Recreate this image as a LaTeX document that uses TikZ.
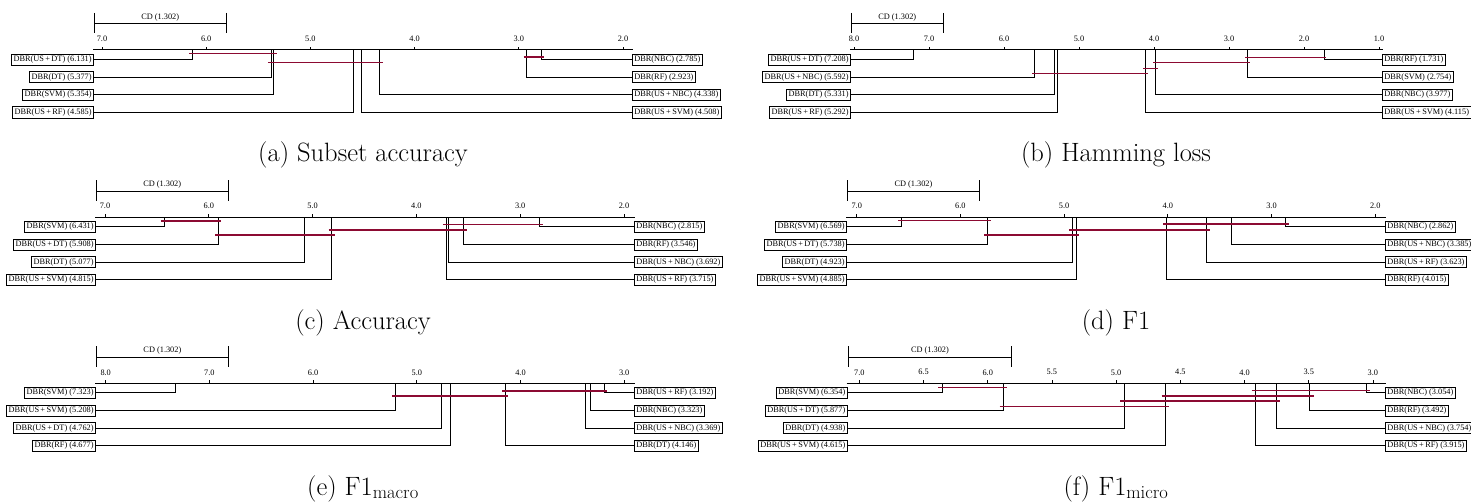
\documentclass[tikz,border=0pt]{standalone}
\usepackage{fontspec}
\newfontfamily\labfont{Liberation Serif}
\definecolor{cliq}{RGB}{140,10,50}
\tikzset{
  axisline/.style={line width=1pt},
  tickline/.style={line width=0.8pt},
  cdline/.style={line width=1pt},
  rankline/.style={line width=0.9pt},
  clique/.style={line width=1.5pt, draw=cliq},
  lab/.style={draw, line width=0.8pt, inner xsep=2pt, inner ysep=1.8pt, font=\labfont\fontsize{8.3}{9}\selectfont},
  ticklab/.style={inner sep=0pt, font=\labfont\fontsize{8.3}{9}\selectfont},
  captext/.style={inner sep=0pt, anchor=base, font=\fontsize{26.5}{30}\selectfont},
}
\newcommand\pl{\,+\,}
\newcommand\drawframe[1]{%
  \coordinate (\pid-axl) at (\axl,\ay);
  \coordinate (\pid-axr) at (\axr,\ay);
  \draw[axisline] (\pid-axl) -- (\pid-axr);
  \foreach \t/\tl [count=\i] in {#1} {
    \coordinate (\pid-tk\i) at ({\xo+(\hi-\t)*\sc},\ay);
    \draw[tickline] (\pid-tk\i) -- ++(0,-3);
    \node[ticklab] (\pid-tl\i) at ({\xo+(\hi-\t)*\sc},{\ay-11}) {\tl};
  }
  \coordinate (\pid-cda) at ({\axl+1.5},{\ay-26});
  \coordinate (\pid-cdb) at (\cdr,{\ay-26});
  \coordinate (\pid-cdat) at ({\axl+1.5},{\ay-37});
  \coordinate (\pid-cdab) at ({\axl+1.5},{\ay-16.5});
  \coordinate (\pid-cdbt) at (\cdr,{\ay-37});
  \coordinate (\pid-cdbb) at (\cdr,{\ay-16.5});
  \draw[cdline] (\pid-cda) -- (\pid-cdb);
  \draw[cdline] (\pid-cdat) -- (\pid-cdab);
  \draw[cdline] (\pid-cdbt) -- (\pid-cdbb);
  \node[ticklab] (\pid-cdlab) at ({(\axl+1.5+\cdr)/2},{\ay-32.5}) {CD (1.302)};
}
\newcommand\leftlab[3]{%
  \node[lab, anchor=east] (\pid-l#1) at ({\axl+1},{\ay+9.6+17.6*(#1-1)}) {#2};
  \coordinate (\pid-lv#1) at ({\xo+(\hi-#3)*\sc},\ay);
  \draw[rankline] (\pid-l#1.east) -| (\pid-lv#1);
}
\newcommand\rightlab[3]{%
  \node[lab, anchor=west] (\pid-r#1) at ({\axr-1},{\ay+9.6+17.6*(#1-1)}) {#2};
  \coordinate (\pid-rv#1) at ({\xo+(\hi-#3)*\sc},\ay);
  \draw[rankline] (\pid-r#1.west) -| (\pid-rv#1);
}
\newcommand\clq[4]{%
  \coordinate (\pid-c#1a) at ({\xo+(\hi-#2)*\sc-0.03*\sc},{\ay+#4});
  \coordinate (\pid-c#1b) at ({\xo+(\hi-#3)*\sc+0.03*\sc},{\ay+#4});
  \draw[clique] (\pid-c#1a) -- (\pid-c#1b);
}
\begin{document}
\begin{tikzpicture}[x=1pt,y=-1pt]
\fill[white] (0,0) rectangle (1471,502);
\useasboundingbox (0,0) rectangle (1471,502);
% ---------------- (a)
\def\pid{a}\def\xo{102}\def\hi{7}\def\sc{104.2}\def\ay{50}\def\axl{93}\def\axr{633}\def\cdr{226}
\drawframe{7/7.0,6/6.0,5/5.0,4/4.0,3/3.0,2/2.0}
\leftlab{1}{DBR(US\pl DT) (6.131)}{6.131}
\leftlab{2}{DBR(DT) (5.377)}{5.377}
\leftlab{3}{DBR(SVM) (5.354)}{5.354}
\leftlab{4}{DBR(US\pl RF) (4.585)}{4.585}
\rightlab{1}{DBR(NBC) (2.785)}{2.785}
\rightlab{2}{DBR(RF) (2.923)}{2.923}
\rightlab{3}{DBR(US\pl NBC) (4.338)}{4.338}
\rightlab{4}{DBR(US\pl SVM) (4.508)}{4.508}
\clq{1}{6.131}{5.354}{3.3}
\clq{2}{2.923}{2.785}{7}
\clq{3}{5.377}{4.338}{12.3}
\node[captext] (a-cap) at (363,{\ay+112}) {(a) Subset accuracy};
% ---------------- (b)
\def\pid{b}\def\xo{854}\def\hi{8}\def\sc{75}\def\ay{50}\def\axl{850}\def\axr{1383}\def\cdr{943}
\drawframe{8/8.0,7/7.0,6/6.0,5/5.0,4/4.0,3/3.0,2/2.0,1/1.0}
\leftlab{1}{DBR(US\pl DT) (7.208)}{7.208}
\leftlab{2}{DBR(US\pl NBC) (5.592)}{5.592}
\leftlab{3}{DBR(DT) (5.331)}{5.331}
\leftlab{4}{DBR(US\pl RF) (5.292)}{5.292}
\rightlab{1}{DBR(RF) (1.731)}{1.731}
\rightlab{2}{DBR(SVM) (2.754)}{2.754}
\rightlab{3}{DBR(NBC) (3.977)}{3.977}
\rightlab{4}{DBR(US\pl SVM) (4.115)}{4.115}
\clq{1}{2.754}{1.731}{7.7}
\clq{2}{3.977}{2.754}{12.7}
\clq{3}{4.115}{3.977}{18.3}
\clq{4}{5.592}{4.115}{23.3}
\node[captext] (b-cap) at (1116,{\ay+112}) {(b) Hamming loss};
% ---------------- (c)
\def\pid{c}\def\xo{105}\def\hi{7}\def\sc{103.8}\def\ay{217.3}\def\axl{95}\def\axr{635}\def\cdr{228}
\drawframe{7/7.0,6/6.0,5/5.0,4/4.0,3/3.0,2/2.0}
\leftlab{1}{DBR(SVM) (6.431)}{6.431}
\leftlab{2}{DBR(US\pl DT) (5.908)}{5.908}
\leftlab{3}{DBR(DT) (5.077)}{5.077}
\leftlab{4}{DBR(US\pl SVM) (4.815)}{4.815}
\rightlab{1}{DBR(NBC) (2.815)}{2.815}
\rightlab{2}{DBR(RF) (3.546)}{3.546}
\rightlab{3}{DBR(US\pl NBC) (3.692)}{3.692}
\rightlab{4}{DBR(US\pl RF) (3.715)}{3.715}
\clq{1}{6.431}{5.908}{3.7}
\clq{2}{3.715}{2.815}{7}
\clq{3}{4.815}{3.546}{12.7}
\clq{4}{5.908}{4.815}{17.7}
\node[captext] (c-cap) at (363,{\ay+112}) {(c) Accuracy};
% ---------------- (d)
\def\pid{d}\def\xo{856.7}\def\hi{7}\def\sc{103.7}\def\ay{217.3}\def\axl{846}\def\axr{1386}\def\cdr{979.3}
\drawframe{7/7.0,6/6.0,5/5.0,4/4.0,3/3.0,2/2.0}
\leftlab{1}{DBR(SVM) (6.569)}{6.569}
\leftlab{2}{DBR(US\pl DT) (5.738)}{5.738}
\leftlab{3}{DBR(DT) (4.923)}{4.923}
\leftlab{4}{DBR(US\pl SVM) (4.885)}{4.885}
\rightlab{1}{DBR(NBC) (2.862)}{2.862}
\rightlab{2}{DBR(US\pl NBC) (3.385)}{3.385}
\rightlab{3}{DBR(US\pl RF) (3.623)}{3.623}
\rightlab{4}{DBR(RF) (4.015)}{4.015}
\clq{1}{6.569}{5.738}{3.4}
\clq{2}{4.015}{2.862}{6.7}
\clq{3}{4.923}{3.623}{12.7}
\clq{4}{5.738}{4.885}{17.7}
\node[captext] (d-cap) at (1116,{\ay+112}) {(d) F1};
% ---------------- (e)
\def\pid{e}\def\xo{105.7}\def\hi{8}\def\sc{103.7}\def\ay{383.3}\def\axl{95}\def\axr{635}\def\cdr{228.3}
\drawframe{8/8.0,7/7.0,6/6.0,5/5.0,4/4.0,3/3.0}
\leftlab{1}{DBR(SVM) (7.323)}{7.323}
\leftlab{2}{DBR(US\pl SVM) (5.208)}{5.208}
\leftlab{3}{DBR(US\pl DT) (4.762)}{4.762}
\leftlab{4}{DBR(RF) (4.677)}{4.677}
\rightlab{1}{DBR(US\pl RF) (3.192)}{3.192}
\rightlab{2}{DBR(NBC) (3.323)}{3.323}
\rightlab{3}{DBR(US\pl NBC) (3.369)}{3.369}
\rightlab{4}{DBR(DT) (4.146)}{4.146}
\clq{1}{4.146}{3.192}{7.7}
\clq{2}{5.208}{4.146}{12.7}
\node[captext] (e-cap) at (363,{\ay+111.7}) {(e) F1$_{\mathrm{macro}}$};
% ---------------- (f)
\def\pid{f}\def\xo{859.3}\def\hi{7}\def\sc{128.4}\def\ay{383.3}\def\axl{846.7}\def\axr{1386}\def\cdr{1011.7}
\drawframe{7/7.0,6.5/6.5,6/6.0,5.5/5.5,5/5.0,4.5/4.5,4/4.0,3.5/3.5,3/3.0}
\leftlab{1}{DBR(SVM) (6.354)}{6.354}
\leftlab{2}{DBR(US\pl DT) (5.877)}{5.877}
\leftlab{3}{DBR(DT) (4.938)}{4.938}
\leftlab{4}{DBR(US\pl SVM) (4.615)}{4.615}
\rightlab{1}{DBR(NBC) (3.054)}{3.054}
\rightlab{2}{DBR(RF) (3.492)}{3.492}
\rightlab{3}{DBR(US\pl NBC) (3.754)}{3.754}
\rightlab{4}{DBR(US\pl RF) (3.915)}{3.915}
\clq{1}{6.354}{5.877}{4}
\clq{2}{3.915}{3.054}{7.4}
\clq{3}{4.615}{3.492}{12.7}
\clq{4}{4.938}{3.754}{17.7}
\clq{5}{5.877}{4.615}{23.4}
\node[captext] (f-cap) at (1116,{\ay+111.7}) {(f) F1$_{\mathrm{micro}}$};
\end{tikzpicture}
\end{document}
